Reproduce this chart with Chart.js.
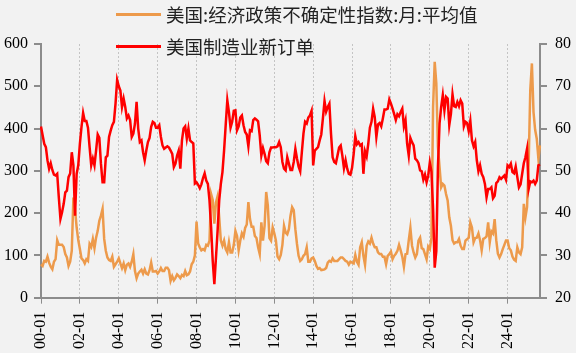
<!DOCTYPE html>
<html>
<head>
<meta charset="utf-8">
<script src="https://cdn.jsdelivr.net/npm/chart.js@4.4.1/dist/chart.umd.min.js"></script>
<style>
  html, body { margin: 0; padding: 0; background: #f2f2f2; }
  #wrap { position: relative; width: 576px; height: 353px; background: #f2f2f2; overflow: hidden; }
  #c { position: absolute; left: 0; top: 0; }
  .lg { position: absolute; left: 116px; height: 22px; display: flex; align-items: center;
        font-family: "Noto Sans CJK SC", "Noto Sans", sans-serif; font-size: 18.5px; color: #222; white-space: nowrap; }
  .lg .sw { width: 45px; height: 3px; margin-right: 5px; }
</style>
</head>
<body>
<div id="wrap">
  <canvas id="c" width="576" height="353"></canvas>
  <div class="lg" style="top:3px;"><span class="sw" style="background:#ED9A4B"></span><span id="lg1"></span></div>
  <div class="lg" style="top:35px;"><span class="sw" style="background:#FF0000"></span><span id="lg2"></span></div>
</div>
<script>
// ---- data ----
const seriesNames = ['美国:经济政策不确定性指数:月:平均值', '美国制造业新订单'];
const startYear = 2000;
const xTickLabels = ['00-01','02-01','04-01','06-01','08-01','10-01','12-01','14-01','16-01','18-01','20-01','22-01','24-01'];
const leftTicks = [0, 100, 200, 300, 400, 500, 600];
const rightTicks = [20, 30, 40, 50, 60, 70, 80];

// 美国:经济政策不确定性指数:月:平均值 (2000-01 .. 2025-09)
const epu = [
  79, 75, 87, 85, 97, 83, 73, 67, 85, 91, 136, 125,
  125, 125, 120, 103, 95, 75, 85, 111, 237, 210, 166, 136,
  115, 93, 89, 81, 91, 87, 127, 120, 139, 117, 142, 158,
  182, 194, 210, 139, 111, 95, 89, 87, 97, 73, 79, 85,
  93, 81, 70, 81, 65, 78, 81, 73, 85, 103, 63, 46,
  57, 62, 66, 57, 67, 57, 55, 65, 83, 62, 62, 63,
  57, 62, 70, 63, 63, 71, 71, 65, 40, 51, 41, 47,
  55, 51, 46, 54, 51, 63, 53, 55, 62, 79, 85, 100,
  180, 128, 119, 112, 115, 112, 125, 123, 135, 245, 231, 175,
  225, 240, 190, 135, 123, 135, 115, 107, 131, 107, 107, 125,
  158, 146, 112, 135, 152, 144, 165, 173, 226, 186, 168, 168,
  146, 141, 119, 103, 178, 135, 170, 250, 218, 141, 135, 166,
  152, 135, 97, 91, 101, 125, 170, 154, 150, 162, 194, 214,
  207, 162, 127, 99, 87, 91, 99, 103, 119, 85, 85, 93,
  95, 87, 75, 68, 70, 65, 66, 67, 70, 83, 87, 85,
  93, 87, 87, 87, 91, 95, 95, 91, 87, 85, 78, 85,
  83, 81, 101, 85, 78, 119, 131, 99, 78, 123, 133, 128,
  142, 128, 119, 119, 107, 103, 103, 97, 97, 79, 99, 103,
  109, 91, 99, 104, 111, 125, 112, 97, 73, 103, 104, 136,
  165, 123, 107, 95, 103, 135, 142, 117, 115, 103, 91, 121,
  115, 142, 451, 558, 507, 356, 309, 261, 269, 265, 245, 230,
  190, 170, 136, 128, 131, 131, 139, 123, 115, 115, 135, 138,
  142, 178, 166, 131, 141, 142, 152, 136, 112, 139, 141, 145,
  178, 131, 157, 152, 186, 136, 104, 95, 103, 115, 125, 135,
  135, 117, 112, 97, 90, 87, 119, 107, 103, 119, 222, 190,
  214, 317, 491, 554, 439, 397, 376, 329, 360
];

// 美国制造业新订单 (2000-01 .. 2025-09)
const newOrders = [
  60.5, 58.4, 56.4, 55.6, 52.5, 50.5, 51.8, 50.2, 49.1, 48.9, 49.3, 43.7,
  38.6, 40.2, 42.2, 44.9, 45.3, 48.5, 49.4, 54.4, 51.3, 39.4, 49.3, 51.3,
  56.4, 60.4, 63.7, 61.8, 61.8, 60.2, 55.6, 51.3, 52.9, 51.3, 54.8, 58.6,
  57.8, 51.7, 47.3, 47.3, 53.2, 53.6, 58.0, 59.5, 60.8, 61.6, 65.9, 71.5,
  70.0, 69.0, 65.1, 67.1, 65.1, 62.4, 63.1, 62.0, 58.0, 58.8, 61.2, 66.3,
  60.0, 56.8, 57.2, 54.4, 52.5, 54.8, 56.8, 57.8, 60.4, 61.6, 61.3, 60.2,
  60.2, 60.8, 58.0, 56.0, 55.2, 55.5, 55.8, 55.5, 54.8, 54.0, 50.9, 51.7,
  53.6, 54.8, 50.5, 57.2, 60.0, 60.5, 57.6, 60.0, 57.2, 56.8, 56.5, 47.0,
  47.3, 46.7, 45.9, 46.8, 48.3, 49.4, 47.7, 46.9, 43.0, 36.6, 28.7, 23.2,
  29.5, 35.8, 43.0, 46.9, 49.7, 54.8, 60.8, 66.7, 63.9, 60.2, 61.6, 64.2,
  64.3, 59.6, 60.5, 62.6, 63.1, 60.8, 59.2, 58.6, 55.8, 59.6, 59.4, 62.0,
  62.4, 62.1, 61.7, 58.4, 53.6, 55.4, 54.0, 52.3, 51.8, 54.4, 55.5, 55.5,
  55.6, 55.6, 55.8, 56.8, 55.6, 52.1, 50.5, 50.1, 53.2, 51.7, 50.2, 50.2,
  52.1, 55.2, 52.9, 51.0, 49.9, 54.4, 58.8, 61.6, 61.2, 62.6, 63.1, 64.2,
  51.3, 54.8, 55.2, 55.6, 57.2, 58.6, 62.4, 66.5, 64.0, 65.1, 65.9, 58.8,
  53.2, 52.1, 51.8, 53.6, 55.5, 56.0, 53.6, 50.6, 52.5, 50.5, 49.3, 49.1,
  50.7, 54.0, 58.2, 56.3, 56.8, 56.0, 56.3, 49.3, 54.6, 53.4, 56.4, 60.2,
  61.6, 64.7, 62.7, 58.0, 61.0, 61.3, 60.5, 62.4, 64.5, 64.5, 64.7, 66.9,
  65.9, 64.7, 63.4, 62.0, 63.4, 62.9, 63.9, 64.7, 60.5, 62.0, 56.4, 53.6,
  57.8, 56.8, 56.0, 52.9, 52.5, 51.8, 50.1, 49.9, 47.9, 49.1, 47.3, 48.9,
  52.0, 49.8, 41.0, 27.1, 31.0, 50.9, 61.2, 65.1, 67.9, 64.3, 67.5, 67.1,
  60.8, 63.4, 68.1, 65.3, 65.1, 66.3, 65.3, 66.7, 65.9, 60.5, 61.6, 61.3,
  59.4, 61.8, 57.2, 55.8, 56.8, 52.5, 49.9, 51.3, 49.3, 48.5, 46.9, 43.7,
  45.7, 45.7, 46.1, 43.5, 44.1, 47.1, 47.5, 48.5, 48.1, 48.5, 48.9, 47.9,
  51.3, 50.9, 51.7, 49.7, 49.4, 51.0, 48.5, 46.1, 46.8, 49.3, 51.8, 53.2,
  55.2, 45.7, 47.5, 47.3, 47.7, 46.9, 47.7, 51.3, 51.5
];

// category labels (YY-MM), one per month
const months = [];
for (let i = 0; i < epu.length; i++) {
  const y = startYear + Math.floor(i / 12), m = (i % 12) + 1;
  months.push(String(y % 100).padStart(2, '0') + '-' + String(m).padStart(2, '0'));
}

document.getElementById('lg1').textContent = seriesNames[0];
document.getElementById('lg2').textContent = seriesNames[1];

const AXIS = '#8c8c8c';
const tickFont = { family: '"Liberation Serif", "Times New Roman", serif', size: 16 };
const isMajor = (i) => xTickLabels.includes(months[i]);

new Chart(document.getElementById('c'), {
  type: 'line',
  data: {
    labels: months,
    datasets: [
      { label: seriesNames[0], data: epu, yAxisID: 'y', borderColor: '#ED9A4B', borderWidth: 2.5,
        pointRadius: 0, tension: 0, fill: false, order: 1 },
      { label: seriesNames[1], data: newOrders, yAxisID: 'y1', borderColor: '#FF0000', borderWidth: 2.5,
        pointRadius: 0, tension: 0, fill: false, order: 0 }
    ]
  },
  options: {
    responsive: false,
    animation: false,
    devicePixelRatio: 1,
    layout: { padding: { left: -2, right: -3, top: 44, bottom: -4 } },
    plugins: { legend: { display: false }, tooltip: { enabled: false } },
    scales: {
      x: {
        type: 'category',
        offset: false,
        grid: {
          display: true, drawOnChartArea: true, drawTicks: true, tickLength: 6, lineWidth: 1,
          color: (ctx) => isMajor(ctx.index) ? '#c4c4c4' : 'rgba(0,0,0,0)',
          tickColor: (ctx) => isMajor(ctx.index) ? AXIS : 'rgba(0,0,0,0)'
        },
        border: { display: true, color: AXIS, width: 2, dash: [2, 2] },
        ticks: {
          autoSkip: false, maxRotation: 90, minRotation: 90, padding: 8, color: '#000', font: tickFont,
          callback: (v, i) => isMajor(i) ? months[i] : ''
        }
      },
      y: {
        position: 'left', min: 0, max: 600,
        afterBuildTicks: (s) => { s.ticks = leftTicks.map(v => ({ value: v })); },
        grid: { drawOnChartArea: false, drawTicks: true, tickLength: 7, tickColor: AXIS, lineWidth: 2 },
        border: { display: true, color: AXIS, width: 2 },
        ticks: { padding: 6, color: '#000', font: tickFont }
      },
      y1: {
        position: 'right', min: 20, max: 80,
        afterBuildTicks: (s) => { s.ticks = rightTicks.map(v => ({ value: v })); },
        grid: { drawOnChartArea: false, drawTicks: true, tickLength: 7, tickColor: AXIS, lineWidth: 2 },
        border: { display: true, color: AXIS, width: 2 },
        ticks: { padding: 8, color: '#000', font: tickFont }
      }
    }
  }
});
</script>
</body>
</html>
